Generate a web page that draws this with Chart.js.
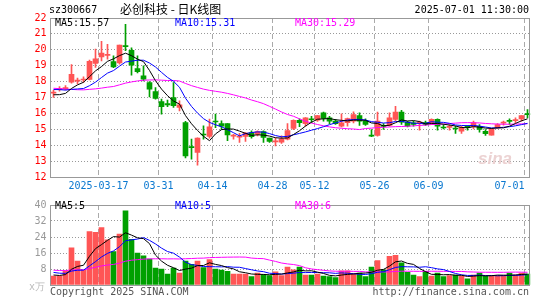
<!DOCTYPE html>
<html lang="zh">
<head>
<meta charset="utf-8">
<title>必创科技 日K线图</title>
<script src="https://cdn.jsdelivr.net/npm/chart.js@4.4.0/dist/chart.umd.min.js"></script>
<style>
  body { margin: 0; background: #fff; }
  #wrap { position: relative; width: 545px; height: 300px; overflow: hidden;
          font-family: "DejaVu Sans Mono", monospace; font-size: 10px; }
  canvas { position: absolute; left: 0; }
  .txt { position: absolute; line-height: 12px; white-space: pre; }
</style>
</head>
<body>
<div id="wrap">
  <canvas id="kline" width="545" height="195" style="top:0;width:545px;height:195px"></canvas>
  <canvas id="vol" width="545" height="105" style="top:195px;width:545px;height:105px"></canvas>

  <div class="txt" style="left:49px;top:4px">sz300667</div>
  <div class="txt" style="left:120px;top:2px;font:12px/14px 'Noto Sans CJK SC',sans-serif">必创科技 - 日K线图</div>
  <div class="txt" style="right:16px;top:4px">2025-07-01 11:30:00</div>

  <div class="txt" style="left:55px;top:17px;color:#000">MA5:15.57</div>
  <div class="txt" style="left:175px;top:17px;color:#0000ff">MA10:15.31</div>
  <div class="txt" style="left:295px;top:17px;color:#ff00ff">MA30:15.29</div>

  <div class="txt" style="left:478px;top:150px;font:italic bold 17px/18px 'Liberation Sans',sans-serif;color:#ecd2d2">sina</div>

  <div class="txt" style="left:55px;top:200px;color:#000">MA5:5</div>
  <div class="txt" style="left:175px;top:200px;color:#0000ff">MA10:5</div>
  <div class="txt" style="left:295px;top:200px;color:#ff00ff">MA30:6</div>

  <div class="txt" style="left:29px;top:281px;color:#bbb">x万</div>
  <div class="txt" style="left:50px;top:286px;color:#555">Copyright 2025 SINA.COM</div>
  <div class="txt" style="right:16px;top:286px;color:#555">http://finance.sina.com.cn</div>
</div>

<script>
// trading days shown (2025)
const days = [
  '03-05','03-06','03-07','03-10','03-11','03-12','03-13','03-14','03-17','03-18',
  '03-19','03-20','03-21','03-24','03-25','03-26','03-27','03-28','03-31','04-01',
  '04-02','04-03','04-07','04-08','04-09','04-10','04-11','04-14','04-15','04-16',
  '04-17','04-18','04-21','04-22','04-23','04-24','04-25','04-28','04-29','04-30',
  '05-06','05-07','05-08','05-09','05-12','05-13','05-14','05-15','05-16','05-19',
  '05-20','05-21','05-22','05-23','05-26','05-27','05-28','05-29','05-30','06-03',
  '06-04','06-05','06-06','06-09','06-10','06-11','06-12','06-13','06-16','06-17',
  '06-18','06-19','06-20','06-23','06-24','06-25','06-26','06-27','06-30','07-01'
];

const open = [
  17.28, 17.50, 17.56, 17.96, 18.03, 18.10, 18.13, 19.14, 19.56, 19.65,
  19.26, 19.18, 20.27, 19.96, 18.82, 18.36, 17.94, 17.38, 16.75, 16.62,
  17.00, 16.37, 15.43, 13.88, 13.54, 14.67, 14.55, 15.49, 15.36, 15.36,
  14.57, 14.50, 14.55, 14.80, 14.69, 14.86, 14.44, 14.21, 14.19, 14.38,
  15.05, 15.57, 15.35, 15.63, 15.57, 16.04, 15.72, 15.51, 15.19, 15.41,
  15.51, 15.87, 15.51, 14.60, 14.61, 15.21, 15.24, 15.62, 16.08, 15.45,
  15.41, 15.39, 15.43, 15.41, 15.62, 15.10, 15.12, 15.04, 14.88, 15.14,
  15.16, 15.19, 14.88, 14.63, 15.09, 15.39, 15.52, 15.55, 15.66, 15.94
];
const high = [
  17.45, 17.68, 17.75, 19.07, 18.22, 18.30, 19.35, 20.04, 20.54, 20.35,
  19.62, 20.30, 21.60, 20.12, 19.62, 18.99, 18.00, 17.63, 16.90, 16.83,
  17.94, 16.79, 15.50, 14.38, 14.46, 15.22, 15.64, 15.95, 15.53, 15.36,
  14.69, 14.74, 14.80, 14.90, 14.90, 14.90, 14.44, 14.44, 14.59, 15.36,
  15.60, 15.66, 15.74, 15.82, 15.88, 16.08, 15.82, 15.62, 15.97, 15.70,
  16.10, 16.04, 15.66, 14.99, 16.08, 15.36, 16.04, 16.45, 16.20, 15.50,
  15.51, 15.51, 15.51, 15.66, 15.66, 15.30, 15.30, 15.19, 15.19, 15.24,
  15.51, 15.30, 14.99, 15.05, 15.36, 15.51, 15.66, 15.72, 15.87, 16.24
];
const low = [
  17.00, 17.40, 17.48, 17.90, 17.85, 17.95, 18.10, 18.89, 19.30, 19.41,
  18.88, 19.10, 19.94, 18.40, 18.55, 18.05, 17.04, 16.90, 15.95, 16.42,
  16.37, 16.16, 13.20, 13.12, 12.74, 14.38, 14.45, 15.11, 15.00, 14.28,
  14.38, 14.17, 14.23, 14.44, 14.59, 14.17, 14.17, 13.96, 14.11, 14.33,
  14.98, 15.16, 15.20, 15.41, 15.50, 15.51, 15.36, 15.30, 15.15, 15.19,
  15.40, 15.24, 15.24, 14.53, 14.57, 14.99, 15.20, 15.55, 15.30, 15.15,
  15.19, 14.94, 15.24, 15.30, 14.94, 15.03, 14.94, 14.74, 14.74, 14.94,
  15.03, 14.82, 14.61, 14.63, 15.05, 15.26, 15.30, 15.41, 15.51, 15.72
];
const close = [
  17.32, 17.53, 17.60, 18.45, 18.07, 18.14, 19.28, 19.43, 19.80, 19.72,
  18.93, 20.29, 20.19, 19.03, 18.62, 18.15, 17.52, 16.94, 16.42, 16.54,
  16.48, 16.54, 13.33, 13.85, 14.44, 14.64, 15.16, 15.46, 15.19, 14.65,
  14.60, 14.53, 14.76, 14.53, 14.86, 14.49, 14.23, 14.24, 14.40, 14.92,
  15.57, 15.41, 15.72, 15.60, 15.87, 15.68, 15.51, 15.35, 15.41, 15.68,
  15.93, 15.51, 15.30, 14.57, 15.51, 15.18, 15.72, 16.08, 15.45, 15.19,
  15.30, 15.42, 15.30, 15.62, 15.19, 15.08, 15.14, 15.02, 15.13, 15.12,
  15.41, 14.99, 14.72, 15.03, 15.30, 15.42, 15.50, 15.58, 15.87, 15.92
];
// volume, 万手
const volume = [
  4.4, 4.4, 7.1, 18.6, 11.9, 7.4, 26.7, 26.3, 28.7, 22.6,
  16.7, 25.5, 37.1, 22.8, 15.9, 14.6, 13.0, 8.4, 7.9, 5.5,
  8.4, 6.0, 11.9, 10.3, 11.9, 8.7, 12.7, 7.9, 7.4, 6.8,
  5.5, 5.5, 5.5, 4.2, 6.0, 5.2, 4.7, 6.6, 4.7, 9.0,
  7.6, 9.0, 5.0, 5.0, 5.5, 4.4, 4.2, 3.7, 7.1, 7.1,
  5.5, 6.0, 4.2, 9.0, 12.2, 7.6, 14.3, 14.8, 11.1, 6.3,
  5.0, 4.2, 6.8, 4.4, 6.0, 4.2, 4.7, 5.0, 4.4, 3.1,
  5.0, 6.0, 4.4, 4.7, 4.7, 4.7, 6.0, 5.0, 6.0, 5.5
];

// sessions before the window, only used to seed the moving averages
const priorClose = [
  18.2, 18.6, 18.9, 18.7, 18.4, 18.3, 18.5, 18.4, 18.0, 17.6,
  17.2, 16.9, 16.8, 16.7, 16.9, 17.0, 16.8, 16.9, 17.2, 16.4,
  17.6, 17.9, 18.0, 17.8, 17.86, 17.5, 17.2, 16.9, 16.94
];
const priorVolume = [
  9.5, 8.2, 7.6, 10.4, 8.8, 7.1, 6.9, 8.5, 9.2, 7.4,
  6.8, 7.7, 8.1, 7.3, 6.6, 8.9, 7.5, 7.2, 8.0, 7.3,
  8.4, 7.9, 7.2, 7.6, 6.9, 5.6, 4.9, 5.3, 4.8
];

const tickDays = ['03-17', '03-31', '04-14', '04-28', '05-12', '05-26', '06-09', '07-01'];
const tickLabels = ['2025-03-17', '03-31', '04-14', '04-28', '05-12', '05-26', '06-09', '07-01'];
const priceTicks = [12, 22, 1];   // min, max, step
const volumeTicks = [0, 40, 8];

const UP = '#ff5555';
const DOWN = '#00a000';
const MONO = { family: 'DejaVu Sans Mono', size: 10 };

function movingAverage(prior, values, n) {
  const all = prior.concat(values);
  return values.map((v, i) => {
    const end = prior.length + i + 1;
    const win = all.slice(end - n, end);
    return win.reduce((a, b) => a + b, 0) / win.length;
  });
}

const candleColor = days.map((d, i) => close[i] >= open[i] ? UP : DOWN);
const tickIndex = tickDays.map(d => days.indexOf(d));

function tickText(i) {
  const k = tickIndex.indexOf(i);
  if (k < 0) return '';
  // the last date sits against the frame, push it left like the original
  return k === tickIndex.length - 1 ? tickLabels[k] + '     ' : tickLabels[k];
}

function dateGridColor(ctx) {
  return tickIndex.includes(ctx.index) ? '#aaa' : 'transparent';
}

// grey frame round the plot
const frame = {
  id: 'frame',
  afterDraw(chart) {
    const { ctx, chartArea: a } = chart;
    ctx.save();
    ctx.strokeStyle = '#999';
    ctx.lineWidth = 1;
    const l = Math.floor(a.left) + 0.5, t = Math.floor(a.top) + 0.5;
    const r = Math.floor(a.right) - 0.5, b = Math.floor(a.bottom) + 0.5;
    ctx.strokeRect(l, t, r - l, b - t);
    ctx.restore();
  }
};

function maLine(data, color) {
  return { type: 'line', data, borderColor: color, borderWidth: 1, pointRadius: 0,
           tension: 0, order: 0 };
}

function xScale(showLabels) {
  return {
    type: 'category',
    offset: true,
    grid: { color: dateGridColor, drawTicks: false, offset: true },
    border: { display: false, dash: [5, 3] },
    ticks: {
      display: showLabels, autoSkip: false, maxRotation: 0, minRotation: 0,
      color: '#0a78d0', font: MONO, padding: 3, labelOffset: -3,
      callback: (v, i) => tickText(i)
    },
    afterFit(s) {
      s.height = showLabels ? 18 : 0;
      s.paddingLeft = 0;
      s.paddingRight = 0;
    }
  };
}

function yScale(range, color, hideZero) {
  return {
    min: range[0], max: range[1],
    grid: { color: '#999', drawTicks: false },
    border: { display: false, dash: [1, 2] },
    ticks: {
      stepSize: range[2], color, font: MONO, padding: 4,
      callback: v => (hideZero && v === 0) ? '' : v
    },
    afterFit(s) { s.width = 50; }
  };
}

const common = {
  responsive: false,
  animation: false,
  events: [],
  plugins: { legend: { display: false }, tooltip: { enabled: false } }
};

new Chart(document.getElementById('kline'), {
  type: 'bar',
  data: {
    labels: days,
    datasets: [
      maLine(movingAverage(priorClose, close, 5), '#000000'),
      maLine(movingAverage(priorClose, close, 10), '#0000ff'),
      maLine(movingAverage(priorClose, close, 30), '#ff00ff'),
      { data: days.map((d, i) => [open[i], close[i]]), backgroundColor: candleColor,
        barThickness: 5, minBarLength: 1, grouped: false, order: 1 },
      { data: days.map((d, i) => [low[i], high[i]]), backgroundColor: candleColor,
        barThickness: 1, grouped: false, order: 2 }
    ]
  },
  options: Object.assign({}, common, {
    layout: { padding: { top: 18, right: 14.5, left: 0.5, bottom: 0 } },
    scales: { x: xScale(true), y: yScale(priceTicks, '#ff0000', false) }
  }),
  plugins: [frame]
});

new Chart(document.getElementById('vol'), {
  type: 'bar',
  data: {
    labels: days,
    datasets: [
      maLine(movingAverage(priorVolume, volume, 5), '#000000'),
      maLine(movingAverage(priorVolume, volume, 10), '#0000ff'),
      maLine(movingAverage(priorVolume, volume, 30), '#ff00ff'),
      { data: volume, backgroundColor: candleColor, barThickness: 5, grouped: false, order: 1 }
    ]
  },
  options: Object.assign({}, common, {
    layout: { padding: { top: 6, right: 14.5, left: 0.5, bottom: 15 } },
    scales: { x: xScale(false), y: yScale(volumeTicks, '#999', true) }
  }),
  plugins: [frame]
});
</script>
</body>
</html>
